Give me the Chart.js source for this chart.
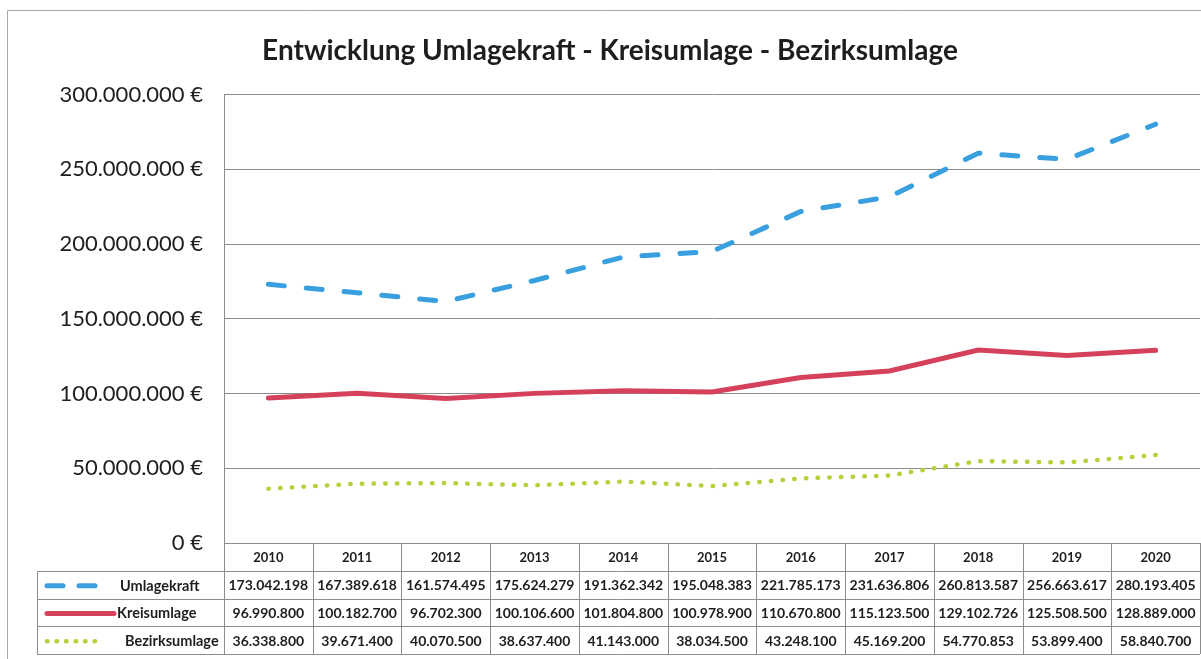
<!DOCTYPE html>
<html lang="de">
<head>
<meta charset="utf-8">
<title>Entwicklung Umlagekraft - Kreisumlage - Bezirksumlage</title>
<script src="https://cdn.jsdelivr.net/npm/chart.js@4.4.1/dist/chart.umd.min.js"></script>
<style>
  html, body { margin: 0; padding: 0; background: #fff; }
  #wrap { width: 1201px; height: 659px; position: relative; }
</style>
</head>
<body>
<div id="wrap"><canvas id="chart" width="1201" height="659"></canvas></div>
<script>
const years = ['2010', '2011', '2012', '2013', '2014', '2015', '2016', '2017', '2018', '2019', '2020'];
const umlagekraft = [173042198, 167389618, 161574495, 175624279, 191362342, 195048383, 221785173, 231636806, 260813587, 256663617, 280193405];
const kreisumlage = [96990800, 100182700, 96702300, 100106600, 101804800, 100978900, 110670800, 115123500, 129102726, 125508500, 128889000];
const bezirksumlage = [36338800, 39671400, 40070500, 38637400, 41143000, 38034500, 43248100, 45169200, 54770853, 53899400, 58840700];
const yTicks = [0, 50000000, 100000000, 150000000, 200000000, 250000000, 300000000];

const FONT = 'Lato, "Open Sans", sans-serif';
const GRID = '#8c8c8c';
const TEXT = '#1e1e1e';

function fmt(v) {
  return String(Math.round(v)).replace(/\B(?=(\d{3})+(?!\d))/g, '.');
}

// Excel-style data table under the x axis, columns follow the category scale
const dataTable = {
  id: 'dataTable',
  afterDraw(chart) {
    const ctx = chart.ctx;
    const x = chart.scales.x;
    const area = chart.chartArea;
    const step = x.getPixelForValue(1) - x.getPixelForValue(0);
    const left = area.left;
    const right = x.getPixelForValue(years.length - 1) + step / 2;
    const legendLeft = 37;
    const top = area.bottom;
    const rows = [top, top + 28, top + 55.7, top + 83.3, top + 111];

    ctx.save();
    ctx.strokeStyle = GRID;
    ctx.lineWidth = 1;
    ctx.beginPath();
    ctx.moveTo(left, rows[0] + 0.5);
    ctx.lineTo(right, rows[0] + 0.5);
    for (let r = 1; r < rows.length; r++) {
      ctx.moveTo(legendLeft, Math.round(rows[r]) + 0.5);
      ctx.lineTo(right, Math.round(rows[r]) + 0.5);
    }
    ctx.moveTo(legendLeft + 0.5, rows[1]);
    ctx.lineTo(legendLeft + 0.5, rows[4]);
    for (let i = 0; i <= years.length; i++) {
      const cx = Math.round(left + i * step) + 0.5;
      ctx.moveTo(cx, rows[0]);
      ctx.lineTo(cx, rows[4]);
    }
    ctx.stroke();

    ctx.fillStyle = TEXT;
    ctx.textAlign = 'center';
    ctx.textBaseline = 'middle';
    ctx.font = 'bold 13px ' + FONT;
    years.forEach((y, i) => {
      ctx.fillText(y, x.getPixelForValue(i), (rows[0] + rows[1]) / 2 + 1);
    });

    chart.data.datasets.forEach((ds, r) => {
      const cy = (rows[r + 1] + rows[r + 2]) / 2 + 1;
      ctx.font = 'bold 14px ' + FONT;
      ds.data.forEach((v, i) => {
        ctx.fillText(fmt(v), x.getPixelForValue(i), cy);
      });

      // legend key
      ctx.save();
      ctx.strokeStyle = ds.borderColor;
      ctx.lineWidth = ds.borderWidth;
      ctx.lineCap = ds.borderCapStyle || 'butt';
      ctx.setLineDash(ds.keyDash || ds.borderDash || []);
      ctx.beginPath();
      ctx.moveTo(ds.keyStart, cy);
      ctx.lineTo(ds.keyEnd, cy);
      ctx.stroke();
      ctx.restore();

      ctx.font = 'bold 14.5px ' + FONT;
      ctx.textAlign = 'left';
      ctx.fillText(ds.label, ds.textStart, cy);
      ctx.textAlign = 'center';
    });
    ctx.restore();
  }
};

// light frame of the chart object
const frame = {
  id: 'frame',
  beforeDraw(chart) {
    const ctx = chart.ctx;
    ctx.save();
    ctx.strokeStyle = '#a8a8a8';
    ctx.lineWidth = 1;
    ctx.beginPath();
    ctx.moveTo(7.5, chart.height);
    ctx.lineTo(7.5, 10.5);
    ctx.lineTo(chart.width, 10.5);
    ctx.stroke();
    ctx.restore();
  }
};

new Chart(document.getElementById('chart'), {
  type: 'line',
  data: {
    labels: years,
    datasets: [
      {
        label: 'Umlagekraft',
        data: umlagekraft,
        borderColor: '#3a9fdf',
        borderWidth: 5,
        borderDash: [16, 22],
        borderCapStyle: 'round',
        keyDash: [16, 16],
        keyStart: 47, keyEnd: 103, textStart: 120
      },
      {
        label: 'Kreisumlage',
        data: kreisumlage,
        borderColor: '#d5405b',
        borderWidth: 5,
        borderCapStyle: 'round',
        keyStart: 47, keyEnd: 114, textStart: 117
      },
      {
        label: 'Bezirksumlage',
        data: bezirksumlage,
        borderColor: '#b4d23c',
        borderWidth: 4.5,
        borderDash: [0.5, 11.2],
        borderCapStyle: 'round',
        keyDash: [0.5, 9],
        keyStart: 47, keyEnd: 100, textStart: 125
      }
    ]
  },
  options: {
    responsive: false,
    animation: false,
    layout: {
      padding: { left: 20, right: 1, top: 0, bottom: 0 }
    },
    elements: {
      point: { radius: 0 },
      line: { tension: 0 }
    },
    plugins: {
      legend: { display: false },
      tooltip: { enabled: false },
      title: {
        display: true,
        text: 'Entwicklung Umlagekraft - Kreisumlage - Bezirksumlage',
        color: TEXT,
        font: { family: FONT, size: 28, weight: 'bold' },
        padding: { top: 34, bottom: 27 }
      }
    },
    scales: {
      x: {
        offset: true,
        grid: { display: false, drawTicks: false },
        border: { display: true, color: GRID },
        ticks: { display: false },
        afterFit(scale) { scale.height = 116; }
      },
      y: {
        min: 0,
        max: 300000000,
        afterBuildTicks(scale) { scale.ticks = yTicks.map(v => ({ value: v })); },
        grid: { color: GRID, drawTicks: false },
        border: { display: true, color: GRID },
        ticks: {
          padding: 21,
          color: TEXT,
          font: { family: FONT, size: 22 },
          callback: v => fmt(v) + ' €'
        },
        afterFit(scale) { scale.width = 204; }
      }
    }
  },
  plugins: [frame, dataTable]
});
</script>
</body>
</html>
